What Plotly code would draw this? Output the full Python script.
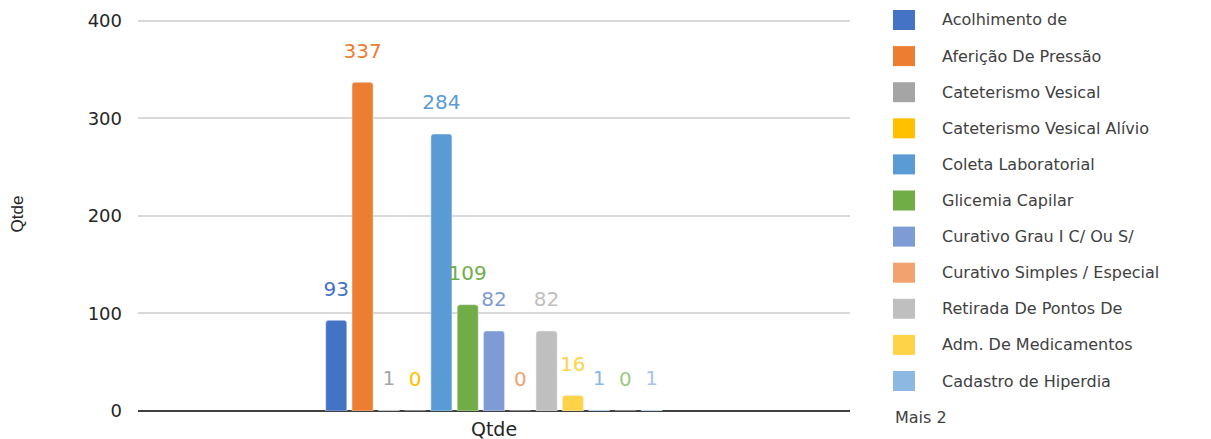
import plotly.graph_objects as go

categories = ["Qtde"]
series_names = [
    "Acolhimento de",
    "Aferição De Pressão",
    "Cateterismo Vesical",
    "Cateterismo Vesical Alívio",
    "Coleta Laboratorial",
    "Glicemia Capilar",
    "Curativo Grau I C/ Ou S/",
    "Curativo Simples / Especial",
    "Retirada De Pontos De",
    "Adm. De Medicamentos",
    "Cadastro de Hiperdia",
    "Outros procedimentos",
    "Outros cadastros",
]
series_values = [93, 337, 1, 0, 284, 109, 82, 0, 82, 16, 1, 0, 1]
series_colors = [
    "#4472C4", "#ED7D31", "#A5A5A5", "#FFC000", "#5B9BD5", "#70AD47",
    "#7F9BD5", "#F1A26E", "#BFBFBF", "#FFD347", "#8DB8E2", "#9BCB7D", "#A9C4EB",
]
legend_visible = [True] * 11 + [False, False]
more_label = "Mais 2"
y_ticks = [0, 100, 200, 300, 400]

# figure geometry (page has an 8px body margin around the figure)
W, H = 1203, 431
ML, MR, MT, MB = 130, 361, 9, 28
PW, PH = W - ML - MR, H - MT - MB

fig = go.Figure()
for i, (name, val, col) in enumerate(zip(series_names, series_values, series_colors)):
    fig.add_trace(go.Bar(
        x=categories, y=[val], name=name,
        marker=dict(color=col, cornerradius=3),
        showlegend=False,
        hoverinfo="name+y",
    ))
for i, (name, val, col) in enumerate(zip(series_names, series_values, series_colors)):
    fig.add_trace(go.Scatter(
        x=categories, y=[val], name=name,
        mode="markers+text",
        marker=dict(size=30, opacity=0, color=col),
        text=[str(val)],
        textposition="top center",
        textfont=dict(color=col, size=20, family="DejaVu Sans"),
        cliponaxis=False,
        showlegend=False,
        hoverinfo="skip",
    ))

# legend drawn as swatches + labels in paper coordinates
def px_x(fx):
    return (fx - ML) / PW

def px_y(fy):
    return (H - MB - fy) / PH

shapes = []
annotations = []
legend_items = [(n, c) for n, c, s in zip(series_names, series_colors, legend_visible) if s]
sw_left, sw_right, sw_h, txt_x, first_y, step = 885, 907, 20, 932, 12, 36.1
for i, (name, col) in enumerate(legend_items):
    cy = first_y + step * i
    shapes.append(dict(
        type="rect", xref="paper", yref="paper",
        x0=px_x(sw_left), x1=px_x(sw_right),
        y0=px_y(cy + sw_h / 2), y1=px_y(cy - sw_h / 2),
        fillcolor=col, line=dict(width=0), layer="above",
    ))
    annotations.append(dict(
        text=name, x=px_x(txt_x), y=px_y(cy), xref="paper", yref="paper",
        xanchor="left", yanchor="middle", showarrow=False,
        font=dict(size=16, color="#404040", family="DejaVu Sans"),
    ))
annotations.append(dict(
    text=more_label, x=px_x(sw_left), y=px_y(first_y + step * len(legend_items)),
    xref="paper", yref="paper", xanchor="left", yanchor="middle", showarrow=False,
    font=dict(size=16, color="#404040", family="DejaVu Sans"),
))

fig.update_layout(
    barmode="group",
    bargap=0.52,
    bargroupgap=0.2,
    scattermode="group",
    scattergap=0.52,
    width=W,
    height=H,
    margin=dict(l=ML, r=MR, t=MT, b=MB, autoexpand=False),
    plot_bgcolor="white",
    paper_bgcolor="white",
    font=dict(family="DejaVu Sans", color="#404040"),
    showlegend=False,
    shapes=shapes,
    annotations=annotations,
)
fig.update_yaxes(
    range=[0, 404],
    tickvals=y_ticks,
    showgrid=True,
    gridcolor="#D9D9D9",
    gridwidth=1.5,
    zeroline=True,
    zerolinecolor="#404040",
    zerolinewidth=1.5,
    ticklabelstandoff=15,
    tickfont=dict(size=18, color="#262626", family="DejaVu Sans"),
    title=dict(text="Qtde", standoff=60,
               font=dict(size=17, color="#262626", family="Liberation Sans Narrow, Arial")),
    automargin=False,
)
fig.update_xaxes(
    tickfont=dict(size=19, color="#262626", family="DejaVu Sans"),
    showline=False,
    ticklabelstandoff=5,
    automargin=False,
)

fig.write_html("out.html")
